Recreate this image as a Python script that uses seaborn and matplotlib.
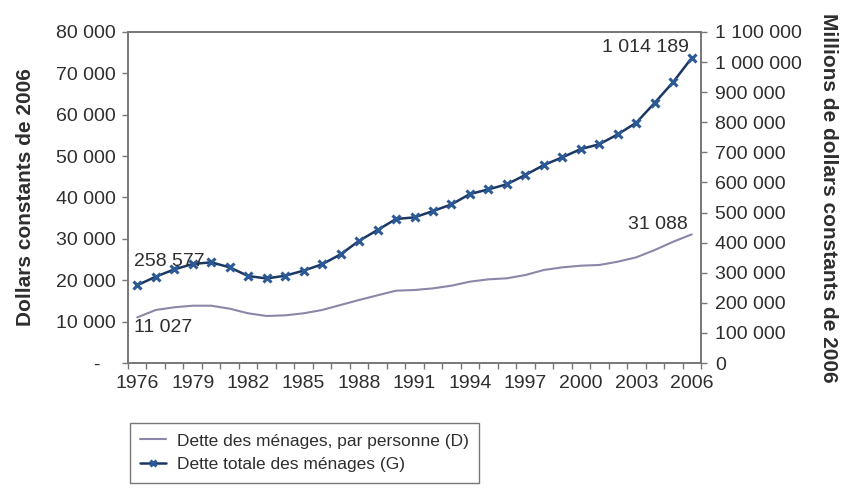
import numpy as np
import pandas as pd
import matplotlib
matplotlib.use("Agg")
import matplotlib.pyplot as plt
import matplotlib.transforms as mtransforms
import seaborn as sns

# Household debt in Canada, constant 2006 dollars
years = list(range(1976, 2007))
debt_per_person = [11027, 12810, 13460, 13850, 13850, 13130, 12010, 11360, 11520, 12010,
                   12810, 14020, 15230, 16360, 17480, 17640, 18040, 18690, 19660, 20220,
                   20470, 21270, 22480, 23120, 23520, 23690, 24490, 25540, 27310, 29320,
                   31088]
total_debt = [258577, 286800, 311000, 329000, 334600, 318000, 289000, 281000, 290000, 307000,
              328000, 361000, 406000, 442000, 478500, 484000, 505000, 527000, 561600, 577000,
              594000, 625000, 658000, 683600, 711000, 727000, 760000, 798600, 865000, 934000,
              1014189]
label_per_person = "Dette des ménages, par personne (D)"
label_total = "Dette totale des ménages (G)"
left_ticks = [0, 10000, 20000, 30000, 40000, 50000, 60000, 70000, 80000]
right_ticks = [0, 100000, 200000, 300000, 400000, 500000, 600000, 700000, 800000, 900000,
               1000000, 1100000]
year_labels = list(range(1976, 2007, 3))

df = pd.DataFrame({"annee": years, "par_personne": debt_per_person, "totale": total_debt})

sns.set_theme(style="white")
plt.rcParams["font.family"] = ["Liberation Sans", "DejaVu Sans"]

txt = "#2e2e2e"
spine_c = "#777777"
fs = 14

fig = plt.figure(figsize=(8.42, 4.92), dpi=100)
ax = fig.add_axes([128 / 842, 1 - 363 / 492, 573 / 842, 331 / 492])
ax2 = ax.twinx()


def fmt(v):
    return f"{v:,}".replace(",", " ")


sns.lineplot(data=df, x="annee", y="par_personne", ax=ax, color="#8a87a8", linewidth=1.5,
             label=label_per_person, legend=False)
sns.lineplot(data=df, x="annee", y="totale", ax=ax2, color="#1b3764", linewidth=1.8,
             marker="x", markersize=6, markeredgewidth=2.2, markeredgecolor="#2c5a96",
             label=label_total, legend=False)

ax.set_xlim(1975.5, 2006.5)
ax.set_ylim(0, 80000)
ax2.set_ylim(0, 1100000)

ax.set_yticks(left_ticks)
ax.set_yticklabels(["-" if v == 0 else fmt(v) for v in left_ticks])
ax2.set_yticks(right_ticks)
ax2.set_yticklabels([fmt(v) for v in right_ticks])
ax.set_xticks(year_labels)
ax.set_xticklabels([str(y) for y in year_labels])
ax.set_xticks(np.arange(1975.5, 2007, 1.0), minor=True)

for a in (ax, ax2):
    for s in a.spines.values():
        s.set_color(spine_c)
        s.set_linewidth(1.2)
    a.grid(False)

ax.tick_params(axis="x", which="major", length=0, pad=9, labelsize=fs, labelcolor=txt)
ax.tick_params(axis="x", which="minor", length=4, width=1, color=spine_c, direction="out",
               bottom=True)
ax.tick_params(axis="y", length=4, width=1, color=spine_c, direction="out", left=True,
               labelsize=fs, labelcolor=txt, pad=5)
ax2.tick_params(axis="y", length=4, width=1, color=spine_c, direction="out", right=True,
                labelsize=fs, labelcolor=txt, pad=6)

# the zero label of the left axis is a dash set further left, accounting style
zero_lab = ax.get_yticklabels()[0]
zero_lab.set_transform(zero_lab.get_transform()
                       + mtransforms.ScaledTranslation(-0.16, 0, fig.dpi_scale_trans))

ax.set_xlabel("")
ax.set_ylabel("Dollars constants de 2006", fontsize=15, fontweight="bold", color=txt,
              labelpad=15)
ax2.set_ylabel("Millions de dollars constants de 2006", fontsize=15, fontweight="bold",
               color=txt, rotation=-90, labelpad=26)

# End-point value labels
ax2.annotate(fmt(total_debt[0]), xy=(years[0], total_debt[0]), xytext=(-2, 11),
             textcoords="offset points", ha="left", va="bottom", fontsize=fs, color=txt)
ax.annotate(fmt(debt_per_person[0]), xy=(years[0], debt_per_person[0]), xytext=(-2, -1),
            textcoords="offset points", ha="left", va="top", fontsize=fs, color=txt)
ax2.annotate(fmt(total_debt[-1]), xy=(years[-1], total_debt[-1]), xytext=(-2, 1),
             textcoords="offset points", ha="right", va="bottom", fontsize=fs, color=txt)
ax.annotate(fmt(debt_per_person[-1]), xy=(years[-1], debt_per_person[-1]), xytext=(-3, 1),
            textcoords="offset points", ha="right", va="bottom", fontsize=fs, color=txt)

handles = ax.get_lines()[:1] + ax2.get_lines()[:1]
leg = fig.legend(handles, [label_per_person, label_total], loc="upper left",
                 bbox_to_anchor=(130 / 842, 1 - 423 / 492), frameon=True, fancybox=False,
                 fontsize=12.5, handlelength=1.5, borderpad=0.6, labelspacing=0.5,
                 handletextpad=0.6, borderaxespad=0)
leg.get_frame().set_edgecolor("#555555")
leg.get_frame().set_linewidth(1.0)
for t in leg.get_texts():
    t.set_color(txt)
for h in leg.legend_handles:
    h.set_markersize(4)

fig.savefig("out.png", dpi=100)
